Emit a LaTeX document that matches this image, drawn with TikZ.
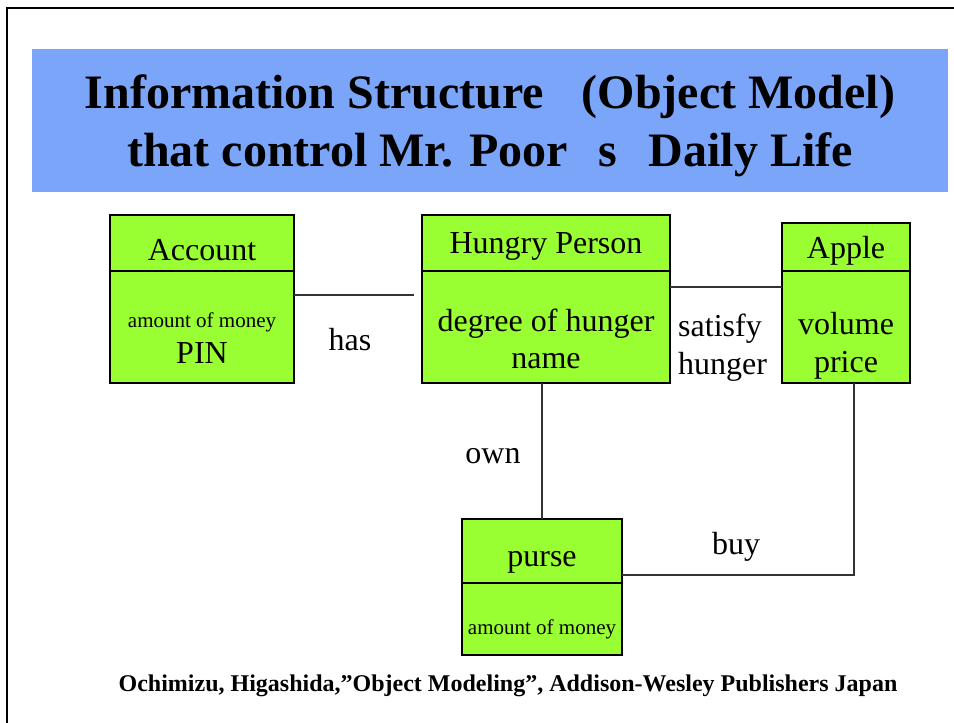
\documentclass[tikz,border=0pt]{standalone}
\usepackage{fontspec}
\setmainfont{Liberation Serif}
\definecolor{bandblue}{RGB}{122,165,248}
\definecolor{boxgreen}{RGB}{153,255,51}
\begin{document}
\begin{tikzpicture}[x=1pt,y=-1pt,
  clsbox/.style={draw=black,line width=1.2pt,fill=boxgreen,inner sep=0pt,outer sep=0pt,anchor=north west},
  link/.style={draw=black!80,line width=1.1pt},
  big/.style={anchor=base,inner sep=0pt,font=\fontsize{32}{38}\selectfont},
  bigleft/.style={anchor=base west,inner sep=0pt,font=\fontsize{32}{38}\selectfont},
  small/.style={anchor=base,inner sep=0pt,font=\fontsize{21}{25}\selectfont},
  titleline/.style={anchor=base,inner sep=0pt,font=\fontsize{48}{56}\bfseries}]

% page and outer frame
\useasboundingbox (0,0) rectangle (954,723);
\fill[white] (0,0) rectangle (954,723);
\draw[line width=2.8pt] (7,723) -- (7,8) -- (954,8);

% title band
\node[fill=bandblue,inner sep=0pt,anchor=north west,minimum width=916pt,minimum height=143pt] (band) at (32,49) {};
\node[titleline] (title1) at (490,108) {Information Structure\hspace*{38pt}(Object Model)};
\node[titleline] (title2) at (490,166) {that control Mr. Poor\hspace*{30pt}s\hspace*{32pt}Daily Life};

% Account
\node[clsbox,minimum width=184pt,minimum height=56pt] (acctHead) at (110,215) {};
\node[clsbox,minimum width=184pt,minimum height=112pt] (acctBody) at (110,271) {};
\node[big] (acctName) at (202,260) {Account};
\node[small] (acctAttr1) at (202,327) {amount of money};
\node[big] (acctAttr2) at (202,363) {PIN};

% Hungry Person
\node[clsbox,minimum width=248pt,minimum height=56pt] (hpHead) at (422,215) {};
\node[clsbox,minimum width=248pt,minimum height=112pt] (hpBody) at (422,271) {};
\node[big] (hpName) at (546,253) {Hungry Person};
\node[big] (hpAttr1) at (546,331) {degree of hunger};
\node[big] (hpAttr2) at (546,368) {name};

% Apple
\node[clsbox,minimum width=128pt,minimum height=48pt] (apHead) at (782,223) {};
\node[clsbox,minimum width=128pt,minimum height=112pt] (apBody) at (782,271) {};
\node[big] (apName) at (846,258) {Apple};
\node[big] (apAttr1) at (846,334) {volume};
\node[big] (apAttr2) at (846,372) {price};

% purse
\node[clsbox,minimum width=160pt,minimum height=64pt] (purseHead) at (462,519) {};
\node[clsbox,minimum width=160pt,minimum height=72pt] (purseBody) at (462,583) {};
\node[big] (purseName) at (542,566) {purse};
\node[small] (purseAttr) at (542,634) {amount of money};

% associations
\coordinate (hasEnd) at (414,295);
\coordinate (satLevel) at (720,287);
\coordinate (buyCorner) at (854,575);
\draw[link] (hasEnd -| acctBody.east) -- (hasEnd);
\draw[link] (satLevel -| hpBody.east) -- (satLevel -| apBody.west);
\draw[link] (purseHead.north) -- (purseHead.north |- hpBody.south);
\draw[link] (buyCorner -| purseHead.east) -- (buyCorner) -- (buyCorner |- apBody.south);

% association names
\node[big] (hasLbl) at (350,350) {has};
\node[bigleft] (satLbl1) at (678,336) {satisfy};
\node[bigleft] (satLbl2) at (678,374) {hunger};
\node[big] (ownLbl) at (493,463) {own};
\node[big] (buyLbl) at (736,554) {buy};

% reference
\node[anchor=base,inner sep=0pt,font=\fontsize{24}{28}\bfseries] (source) at (508,691)
  {Ochimizu, Higashida,”Object Modeling”, Addison-Wesley Publishers Japan};
\end{tikzpicture}
\end{document}
